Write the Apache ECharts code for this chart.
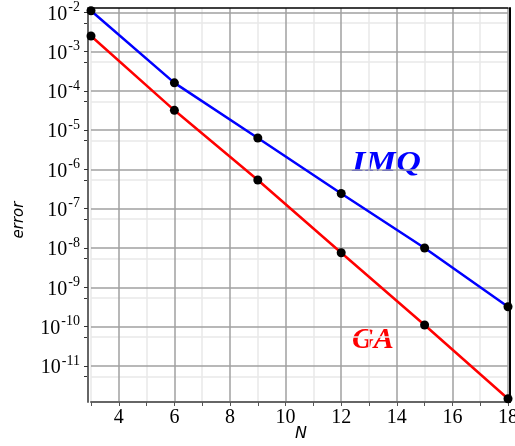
<!DOCTYPE html>
<html>
<head>
<meta charset="utf-8">
<script src="https://cdn.jsdelivr.net/npm/echarts@6/dist/echarts.min.js"></script>
<style>
html,body{margin:0;padding:0;background:#fff;}
#c{width:515px;height:446px;}
</style>
</head>
<body>
<div id="c"></div>
<script>
// Data
var N = [3, 6, 9, 12, 15, 18];
var errIMQ = [1.1e-2, 1.6e-4, 6.3e-6, 2.45e-7, 1.0e-8, 3.2e-10];
var errGA = [2.5e-3, 3.2e-5, 5.4e-7, 7.6e-9, 1.1e-10, 1.45e-12];
var xTickLabels = [4, 6, 8, 10, 12, 14, 16, 18];
var yDecades = [-2, -3, -4, -5, -6, -7, -8, -9, -10, -11];

var yMin = Math.pow(10, -11.92);
var yMax = Math.pow(10, -1.89);

function pairs(xs, ys) { return xs.map(function (x, i) { return [x, ys[i]]; }); }

var majorY = yDecades.map(function (d) { return Math.pow(10, d); });
var minorY = yDecades.map(function (d) { return 0.54 * Math.pow(10, d); });

var yLabelRich = {
  b: { fontFamily: 'Liberation Serif', fontSize: 20, color: '#000', lineHeight: 24, verticalAlign: 'bottom' },
  s: { fontFamily: 'Liberation Serif', fontSize: 14, color: '#000', lineHeight: 24, verticalAlign: 'top', padding: [0, 0, 0, 1] }
};

var chart = echarts.init(document.getElementById('c'), null, { renderer: 'canvas' });
chart.setOption({
  animation: false,
  backgroundColor: '#fff',
  grid: { left: 91, right: 7, top: 8, bottom: 44, outerBoundsMode: 'none', containLabel: false },
  xAxis: [{
    type: 'value', min: 3, max: 18, interval: 1,
    axisLine: { show: true, lineStyle: { color: '#666', width: 2 } },
    axisTick: { show: true, length: 4, lineStyle: { color: '#555' } },
    axisLabel: {
      margin: 6, color: '#000', fontFamily: 'Liberation Serif', fontSize: 20,
      formatter: function (v) { return xTickLabels.indexOf(v) >= 0 ? String(v) : ''; }
    },
    splitLine: { show: true, lineStyle: { color: ['#e8e8e8', '#a0a0a0'], width: 1.5 } }
  }, {
    type: 'value', position: 'top', min: 3, max: 18,
    axisLine: { show: true, lineStyle: { color: '#000', width: 1.5 } },
    axisTick: { show: false }, axisLabel: { show: false }, splitLine: { show: false }
  }],
  yAxis: [{
    // minor grid (drawn first)
    type: 'log', logBase: 10, min: yMin, max: yMax, offset: 3,
    axisLine: { show: false },
    axisTick: { show: true, length: 4, customValues: minorY, lineStyle: { color: '#333' } },
    axisLabel: { show: false },
    splitLine: { show: true, lineStyle: { color: '#e8e8e8', width: 1.5 } },
    z: 0
  }, {
    type: 'log', logBase: 10, min: yMin, max: yMax, offset: 3, position: 'left',
    axisLine: { show: true, lineStyle: { color: '#666', width: 2 } },
    axisTick: { show: true, length: 4, customValues: majorY, lineStyle: { color: '#333' } },
    axisLabel: {
      margin: 8, color: '#000', customValues: majorY,
      formatter: function (v) {
        var e = Math.log10(v), r = Math.round(e);
        return '{b|10}{s|' + r + '}';
      },
      rich: yLabelRich
    },
    splitLine: { show: true, lineStyle: { color: '#a0a0a0', width: 1.5 } },
    z: 1
  }, {
    type: 'value', position: 'right', offset: 2, min: 0, max: 1,
    axisLine: { show: true, lineStyle: { color: '#000', width: 2 } },
    axisTick: { show: false }, axisLabel: { show: false }, splitLine: { show: false }
  }],
  series: [{
    name: 'IMQ', type: 'line', data: pairs(N, errIMQ), clip: false, yAxisIndex: 1,
    symbol: 'circle', symbolSize: 9,
    itemStyle: { color: '#000' },
    lineStyle: { color: '#0000ff', width: 2.5 },
    z: 3
  }, {
    name: 'GA', type: 'line', data: pairs(N, errGA), clip: false, yAxisIndex: 1,
    symbol: 'circle', symbolSize: 9,
    itemStyle: { color: '#000' },
    lineStyle: { color: '#ff0000', width: 2.5 },
    z: 3
  }],
  graphic: [
    { type: 'text', left: 352, top: 148, scaleX: 1.15, style: { text: 'IMQ', fill: '#0000ff', font: 'italic bold 30px "Liberation Serif"' } },
    { type: 'text', left: 352, top: 325, style: { text: 'GA', fill: '#ff0000', font: 'italic bold 30px "Liberation Serif"' } },
    { type: 'text', left: 295, top: 426, style: { text: 'N', fill: '#000', font: 'italic 16px "DejaVu Sans"' } },
    { type: 'text', x: 19, y: 220, rotation: Math.PI / 2, style: { text: 'error', fill: '#000', font: 'italic 15px "DejaVu Sans"', align: 'center', verticalAlign: 'middle' } }
  ]
});
</script>
</body>
</html>
